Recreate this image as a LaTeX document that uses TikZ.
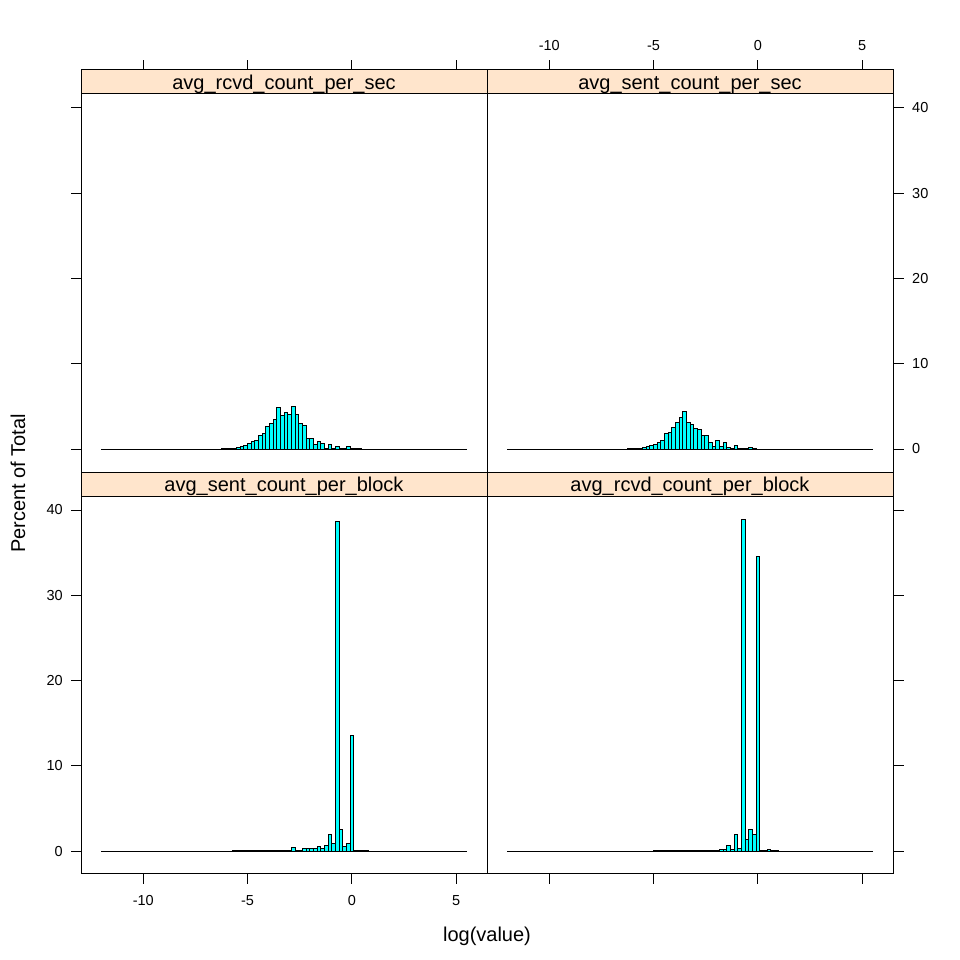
\documentclass[tikz,border=0pt]{standalone}
\usepackage{fontspec}
\setmainfont{Liberation Sans}
\usetikzlibrary{positioning}

\definecolor{stripbg}{HTML}{FFE5CC}
\definecolor{barfill}{HTML}{00FFFF}

\tikzset{
	frame/.style={draw=black, line width=1pt},
	bar/.style={draw=black, fill=barfill, line width=0.9pt},
	tickmark/.style={draw=black, line width=1pt},
	ticklabel/.style={inner sep=0pt, font=\fontsize{14.5}{17}\selectfont},
	striplabel/.style={inner sep=0pt, anchor=base, font=\fontsize{20}{24}\selectfont},
	axislabel/.style={inner sep=0pt, anchor=base, font=\fontsize{20}{24}\selectfont}
}

\begin{document}
\begin{tikzpicture}[x=1pt,y=-1pt]
	\useasboundingbox (0,0) rectangle (960,960);
	% strips
	\fill[stripbg] (81,70) rectangle (893,94);
	\fill[stripbg] (81,472) rectangle (893,496);
	% empty bins
	\draw[bar] (101,449) -- (467,449);
	\draw[bar] (507,449) -- (873,449);
	\draw[bar] (101,851) -- (467,851);
	\draw[bar] (507,851) -- (873,851);
	% avg_rcvd_count_per_sec
	\foreach \k/\p in {33/0.02,34/0.03,35/0.05,36/0.08,37/0.15,38/0.27,39/0.42,40/0.65,41/0.88,42/1.05,43/1.6,44/1.8,45/2.7,46/3.05,47/3.5,48/4.9,49/3.9,50/4.25,51/4.1,52/5.05,53/4.1,54/3.0,55/2.8,56/1.25,57/1.2,58/0.5,59/0.85,60/0.6,61/0.1,62/0.55,63/0.05,64/0.3,65/0.03,66/0.03,67/0.25,68/0.03,69/0.02,70/0.02}
		\draw[bar] ({101+3.663*\k},449) rectangle ++(3.663,{-8.525*\p});
	% avg_sent_count_per_sec
	\foreach \k/\p in {33/0.03,34/0.05,35/0.08,36/0.12,37/0.2,38/0.27,39/0.4,40/0.5,41/0.8,42/1.05,43/1.84,44/1.9,45/2.5,46/3.15,47/3.75,48/4.4,49/3.1,50/2.9,51/2.4,52/2.25,53/1.6,54/1.55,55/0.75,56/0.3,57/0.95,58/0.3,59/0.75,60/0.15,61/0.1,62/0.45,63/0.05,64/0.1,65/0.03,66/0.2,67/0.03}
		\draw[bar] ({507+3.663*\k},449) rectangle ++(3.663,{-8.525*\p});
	% avg_sent_count_per_block
	\foreach \k in {36,...,51}
		\draw[bar] ({101+3.663*\k},851) rectangle ++(3.663,-0.3);
	\foreach \k/\p in {52/0.4,53/0.08,54/0.1,55/0.25,56/0.35,57/0.25,58/0.35,59/0.5,60/0.25,61/0.7,62/1.9,63/0.85,64/38.7,65/2.5,66/0.5,67/0.9,68/13.5,69/0.1,70/0.05,71/0.03,72/0.03}
		\draw[bar] ({101+3.663*\k},851) rectangle ++(3.663,{-8.525*\p});
	% avg_rcvd_count_per_block
	\foreach \k in {40,...,54}
		\draw[bar] ({507+3.663*\k},851) rectangle ++(3.663,-0.2);
	\foreach \k/\p in {55/0.05,56/0.1,57/0.05,58/0.2,59/0.15,60/0.6,61/0.15,62/1.95,63/0.25,64/38.9,65/1.4,66/2.5,67/1.9,68/34.6,69/0.1,70/0.1,71/0.2,72/0.05,73/0.05}
		\draw[bar] ({507+3.663*\k},851) rectangle ++(3.663,{-8.525*\p});
	% panel frames
	\draw[frame] (81,70) rectangle (893,873);
	\draw[frame] (487,70) -- (487,873);
	\draw[frame] (81,94) -- (893,94);
	\draw[frame] (81,472) -- (893,472);
	\draw[frame] (81,496) -- (893,496);
	% strip labels
	\node[striplabel] (rsec) at (284,89.5) {avg\_rcvd\_count\_per\_sec};
	\node[striplabel] (ssec) at (690,89.5) {avg\_sent\_count\_per\_sec};
	\node[striplabel] (sblk) at (284,491.5) {avg\_sent\_count\_per\_block};
	\node[striplabel] (rblk) at (690,491.5) {avg\_rcvd\_count\_per\_block};
	% x axes
	\foreach \v in {-10,-5,0,5} {
		\draw[tickmark] ({351.8+20.85*\v},70) -- ++(0,-10);
		\draw[tickmark] ({757.8+20.85*\v},70) -- ++(0,-10);
		\draw[tickmark] ({351.8+20.85*\v},873) -- ++(0,11);
		\draw[tickmark] ({757.8+20.85*\v},873) -- ++(0,11);
		\node[ticklabel] (top\v) at ({757.8+20.85*\v},46) {\v};
		\node[ticklabel] (bot\v) at ({351.8+20.85*\v},900.5) {\v};
	}
	% y axes
	\foreach \p in {0,10,...,40} {
		\draw[tickmark] (81,{449-8.525*\p}) -- ++(-10,0);
		\draw[tickmark] (81,{851-8.525*\p}) -- ++(-10,0);
		\draw[tickmark] (893,{449-8.525*\p}) -- ++(11,0);
		\draw[tickmark] (893,{851-8.525*\p}) -- ++(11,0);
		\node[ticklabel, anchor=west] (rgt\p) at (912,{449-8.525*\p}) {\p};
		\node[ticklabel, anchor=east] (lft\p) at (63,{851-8.525*\p}) {\p};
	}
	% axis titles
	\node[axislabel] (xlab) at (487,941) {log(value)};
	\node[axislabel, rotate=90] (ylab) at (25,483.5) {Percent of Total};
\end{tikzpicture}
\end{document}
